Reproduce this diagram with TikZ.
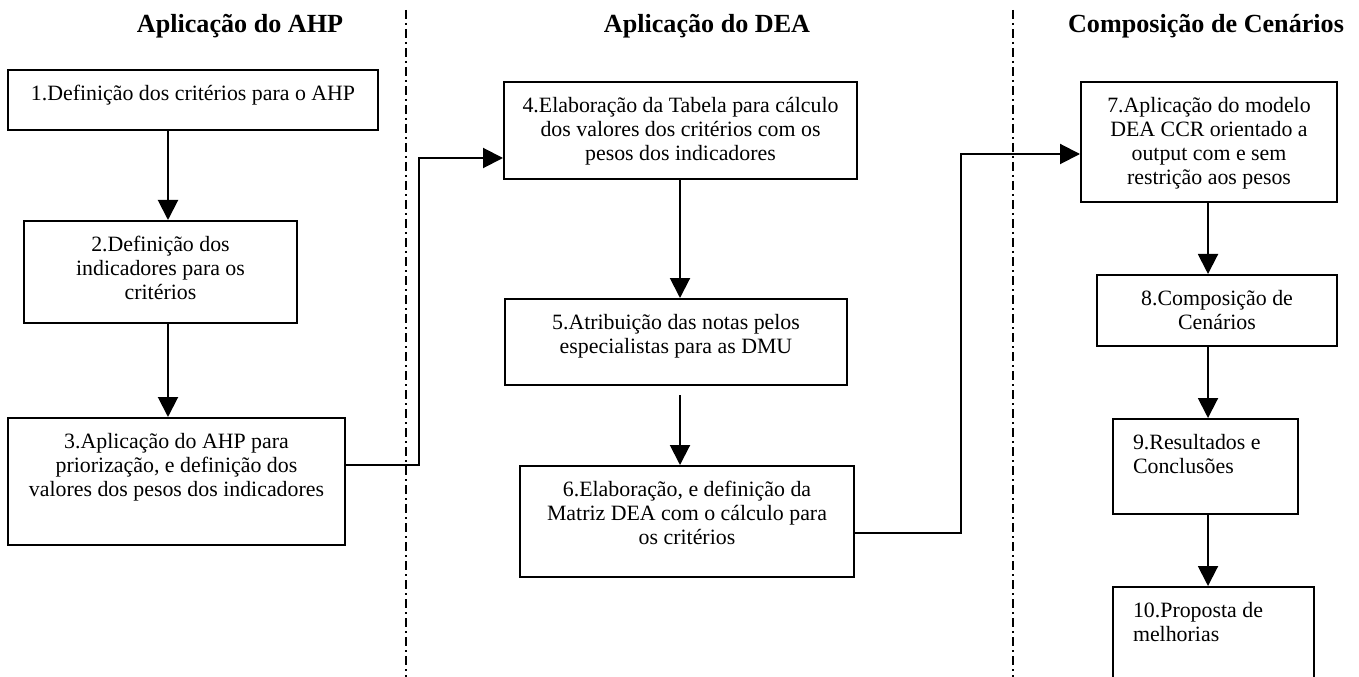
\documentclass[tikz,border=0pt]{standalone}
\usepackage{fontspec}
\setmainfont{Liberation Serif}
\usepackage{tikz}
\usetikzlibrary{positioning,arrows.meta}

\newcommand{\boxtxt}[3]{\parbox[c][#2][t]{#1}{\centering\rule{0pt}{23pt}#3}}
\newcommand{\boxtxtl}[3]{\parbox[c][#2][t]{#1}{\raggedright\leftskip=15pt\rule{0pt}{23pt}#3}}

\begin{document}
\begin{tikzpicture}[x=0.75pt,y=-0.75pt,
	box/.style={draw,line width=1.5pt,inner sep=0pt,anchor=north west,font=\fontsize{16.4}{18}\selectfont},
	title/.style={anchor=base,font=\fontsize{19.6}{22}\selectfont\bfseries},
	flow/.style={line width=1.5pt,-{Triangle[width=15pt,length=15pt]}},
	divider/.style={line width=1pt,dash pattern=on 6.75pt off 3pt on 1.5pt off 3pt}]
	\useasboundingbox (0,0) rectangle (1359,677);

	\node[title] (t1) at (240,33) {Aplicação do AHP};
	\node[title] (t2) at (707,33) {Aplicação do DEA};
	\node[title] (t3) at (1206,33) {Composição de Cenários};

	\node[box] (b1) at (7,69) {\boxtxt{277.5pt}{45pt}{1.Definição dos critérios para o AHP}};
	\node[box] (b2) at (23,220) {\boxtxt{204.75pt}{76.5pt}{2.Definição dos\\indicadores para os\\critérios}};
	\node[box] (b3) at (7,417) {\boxtxt{252.75pt}{95.25pt}{3.Aplicação do AHP para\\priorização, e definição dos\\valores dos pesos dos indicadores}};
	\node[box] (b4) at (503,81) {\boxtxt{264.75pt}{72.75pt}{4.Elaboração da Tabela para cálculo\\dos valores dos critérios com os\\pesos dos indicadores}};
	\node[box] (b5) at (504,298) {\boxtxt{256.5pt}{64.5pt}{5.Atribuição das notas pelos\\especialistas para as DMU}};
	\node[box] (b6) at (519,465) {\boxtxt{250.5pt}{83.25pt}{6.Elaboração, e definição da\\Matriz DEA com o cálculo para\\os critérios}};
	\node[box] (b7) at (1080,81) {\boxtxt{192pt}{90pt}{7.Aplicação do modelo\\DEA CCR orientado a\\output com e sem\\restrição aos pesos}};
	\node[box] (b8) at (1096,274) {\boxtxt{180pt}{53.25pt}{8.Composição de\\Cenários}};
	\node[box] (b9) at (1112,418) {\boxtxtl{138.75pt}{71.25pt}{9.Resultados e\\Conclusões}};
	\node[box] (b10) at (1112,586) {\boxtxtl{150.75pt}{90pt}{10.Proposta de\\melhorias}};

	\coordinate (ax1) at (168,0);
	\coordinate (ax2) at (680,0);
	\coordinate (ax3) at (1208,0);
	\coordinate (s5) at ([yshift=-6.75pt]b5.south);
	\coordinate (e1) at (419,465);
	\coordinate (e1t) at (419,158);
	\coordinate (e2) at (961,533);
	\coordinate (e2t) at (961,154);
	\coordinate (d1t) at (406,10);
	\coordinate (d1b) at (406,677);
	\coordinate (d2t) at (1013,10);
	\coordinate (d2b) at (1013,677);

	\draw[divider] (d1t) -- (d1b) (d2t) -- (d2b);

	\draw[flow] (b1.south -| ax1) -- (b2.north -| ax1);
	\draw[flow] (b2.south -| ax1) -- (b3.north -| ax1);
	\draw[flow] (e1 -| b3.east) -- (e1) -- (e1t) -- (e1t -| b4.west);
	\draw[flow] (b4.south -| ax2) -- (b5.north -| ax2);
	\draw[flow] (s5 -| ax2) -- (b6.north -| ax2);
	\draw[flow] (e2 -| b6.east) -- (e2) -- (e2t) -- (e2t -| b7.west);
	\draw[flow] (b7.south -| ax3) -- (b8.north -| ax3);
	\draw[flow] (b8.south -| ax3) -- (b9.north -| ax3);
	\draw[flow] (b9.south -| ax3) -- (b10.north -| ax3);
\end{tikzpicture}
\end{document}
